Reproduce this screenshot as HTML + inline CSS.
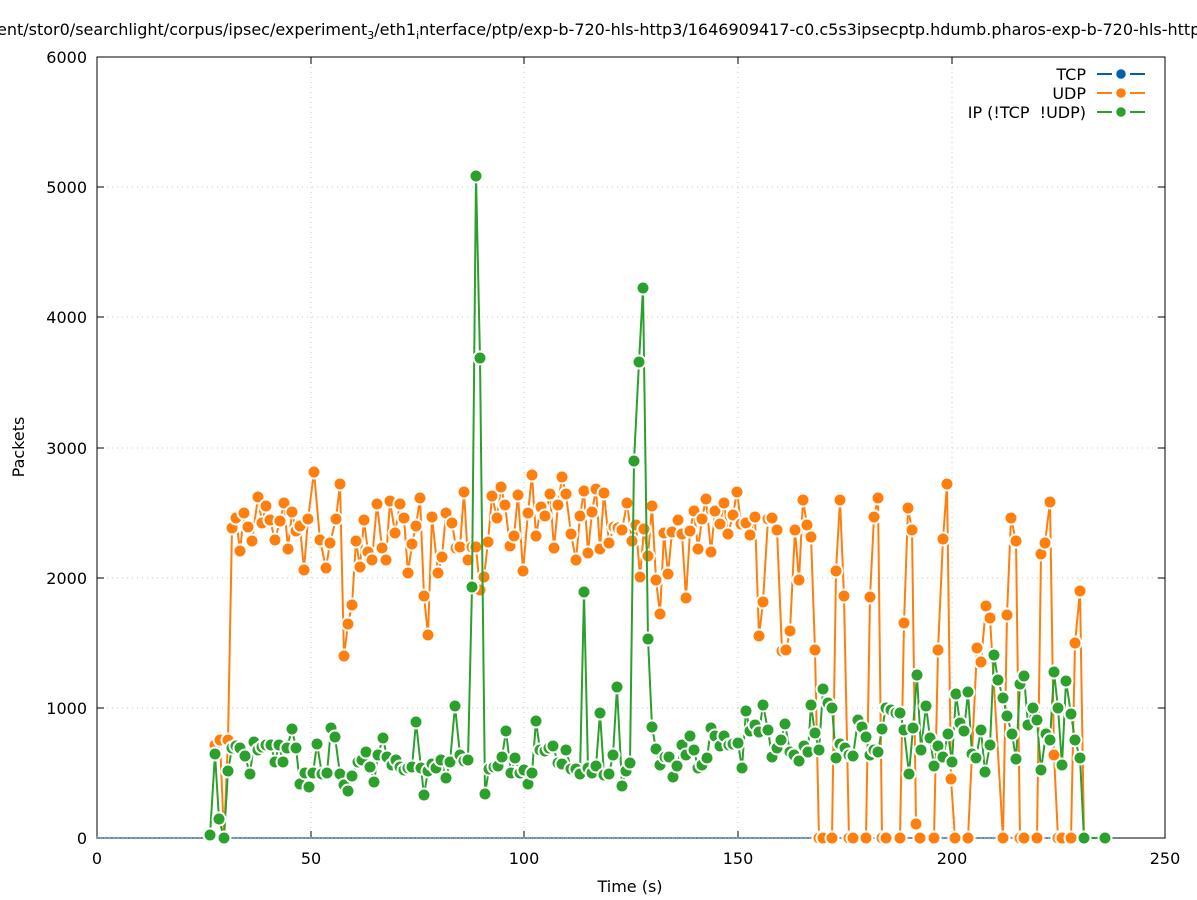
<!DOCTYPE html>
<html><head><meta charset="utf-8"><style>body{margin:0;background:#fff}svg{display:block;font-family:"DejaVu Sans","Liberation Sans",sans-serif}</style></head><body>
<svg id="s" width="1197" height="900" xmlns="http://www.w3.org/2000/svg">
<rect width="1197" height="900" fill="#fff"/>
<g stroke="#c8c8c8" stroke-width="1" stroke-dasharray="1,4">
<line x1="97" x2="1165" y1="708" y2="708"/><line x1="97" x2="1165" y1="578" y2="578"/><line x1="97" x2="1165" y1="448" y2="448"/><line x1="97" x2="1165" y1="317" y2="317"/><line x1="97" x2="1165" y1="187" y2="187"/>
<line y1="57" y2="838" x1="311" x2="311"/><line y1="57" y2="838" x1="524" x2="524"/><line y1="57" y2="838" x1="738" x2="738"/><line y1="57" y2="838" x1="952" x2="952"/>
</g>
<rect x="97" y="57" width="1068" height="781" fill="none" stroke="#000" stroke-width="1"/>
<g stroke="#000" stroke-width="1">
<line x1="97" x2="104" y1="708" y2="708"/><line x1="97" x2="104" y1="578" y2="578"/><line x1="97" x2="104" y1="448" y2="448"/><line x1="97" x2="104" y1="317" y2="317"/><line x1="97" x2="104" y1="187" y2="187"/>
<line x1="1165" x2="1158" y1="708" y2="708"/><line x1="1165" x2="1158" y1="578" y2="578"/><line x1="1165" x2="1158" y1="448" y2="448"/><line x1="1165" x2="1158" y1="317" y2="317"/><line x1="1165" x2="1158" y1="187" y2="187"/>
<line y1="838" y2="831" x1="311" x2="311"/><line y1="838" y2="831" x1="524" x2="524"/><line y1="838" y2="831" x1="738" x2="738"/><line y1="838" y2="831" x1="952" x2="952"/>
<line y1="57" y2="64" x1="311" x2="311"/><line y1="57" y2="64" x1="524" x2="524"/><line y1="57" y2="64" x1="738" x2="738"/><line y1="57" y2="64" x1="952" x2="952"/>
</g>
<g font-size="16" fill="#000" text-anchor="end">
<text x="87" y="844">0</text><text x="87" y="714">1000</text><text x="87" y="584">2000</text><text x="87" y="454">3000</text><text x="87" y="323">4000</text><text x="87" y="193">5000</text><text x="87" y="63">6000</text>
</g>
<g font-size="16" fill="#000" text-anchor="middle">
<text x="97" y="864">0</text><text x="311" y="864">50</text><text x="524" y="864">100</text><text x="738" y="864">150</text><text x="952" y="864">200</text><text x="1165" y="864">250</text>
<text x="630" y="892">Time (s)</text>
<text transform="translate(24,447) rotate(-90)">Packets</text>
</g>
<text x="-3" y="35" font-size="16" fill="#000">ent/stor0/searchlight/corpus/ipsec/experiment<tspan font-size="11" dy="4">3</tspan><tspan dy="-4">/eth1</tspan><tspan font-size="11" dy="4">i</tspan><tspan dy="-4">nterface/ptp/exp-b-720-hls-http3/1646909417-c0.c5s3ipsecptp.hdumb.pharos-exp-b-720-hls-http</tspan></text>
<g font-size="16" fill="#000" text-anchor="end">
<text x="1086" y="80">TCP</text><text x="1086" y="99">UDP</text><text x="1086" y="118">IP (!TCP&#160; !UDP)</text>
</g>
<g stroke-width="2">
<line x1="1097" x2="1112" y1="74" y2="74" stroke="#0060ad"/><line x1="1130" x2="1145" y1="74" y2="74" stroke="#0060ad"/><circle cx="1121" cy="74" r="5.5" fill="#0060ad" stroke="#fff" stroke-width="1.5"/>
<line x1="1097" x2="1112" y1="93" y2="93" stroke="#ff7f0e"/><line x1="1130" x2="1145" y1="93" y2="93" stroke="#ff7f0e"/><circle cx="1121" cy="93" r="5.5" fill="#ff7f0e" stroke="#fff" stroke-width="1.5"/>
<line x1="1097" x2="1112" y1="112" y2="112" stroke="#2ca02c"/><line x1="1130" x2="1145" y1="112" y2="112" stroke="#2ca02c"/><circle cx="1121" cy="112" r="5.5" fill="#2ca02c" stroke="#fff" stroke-width="1.5"/>
</g>
<g id="plot"></g>
</svg>
<script>
var O=[215,745,220,740,224,838,228,740,232,528,236,518,240,551,244,513,248,527,252,541,258,497,262,523,266,506,270,520,275,540,280,521,284,503,288,549,292,512,296,531,300,526,304,570,308,519,314,472,320,540,326,568,330,543,336,519,340,484,344,656,348,624,352,605,356,541,360,567,364,520,368,552,372,560,377,504,382,548,386,560,390,501,395,533,400,504,404,518,408,573,412,544,416,526,420,498,424,596,428,635,432,517,438,573,442,557,446,513,452,523,456,548,460,547,464,492,468,560,472,547,476,547,480,590,484,577,488,542,492,496,497,518,501,487,505,505,510,546,514,536,518,495,523,571,528,513,532,475,536,536,541,507,545,516,550,494,554,548,558,505,562,477,566,494,571,534,576,560,580,516,584,491,588,553,592,512,596,489,600,549,604,493,609,543,614,527,618,528,622,530,627,503,632,541,636,525,640,577,644,529,648,556,652,506,656,580,660,614,664,533,668,574,672,532,678,520,682,534,686,598,690,531,694,511,698,549,702,519,706,499,711,552,715,511,720,524,724,503,728,534,733,515,737,492,741,524,746,523,750,535,755,517,759,636,763,602,768,519,772,518,777,530,782,651,786,650,790,631,795,530,799,580,803,500,807,525,811,537,815,650,819,838,823,838,832,838,836,571,840,500,844,596,849,838,853,838,866,838,870,597,874,517,878,498,882,838,886,838,900,838,904,623,908,508,912,530,916,824,920,838,934,838,938,650,943,539,947,484,951,779,955,838,968,838,977,648,981,662,986,606,990,618,1003,838,1007,615,1011,518,1016,541,1020,838,1024,838,1037,838,1041,554,1045,543,1050,502,1054,755,1058,838,1062,838,1071,838,1075,643,1080,591,1084,838];
var G=[210,835,215,754,219,819,224,838,228,771,232,748,236,746,240,748,245,756,250,774,254,742,258,750,262,747,266,745,271,745,275,762,279,745,283,762,287,748,292,729,296,748,300,784,305,773,309,787,313,773,317,744,322,774,327,773,331,728,335,737,340,774,344,785,348,791,352,776,358,762,362,760,366,752,370,767,374,782,378,755,383,738,387,757,392,765,396,760,400,767,404,770,408,768,412,767,416,722,421,768,424,795,428,771,432,764,436,768,441,760,446,778,450,762,455,706,460,755,464,761,468,760,472,587,476,176,480,358,485,794,489,769,494,767,498,766,502,757,506,731,511,773,515,758,520,773,524,770,528,784,532,773,536,721,540,750,545,751,549,748,553,746,558,763,562,764,566,750,571,769,576,769,580,774,584,592,588,768,592,773,596,766,600,713,604,775,609,774,613,755,617,687,622,786,626,771,630,763,634,461,639,362,643,288,648,639,652,727,656,749,660,765,665,757,669,757,673,777,677,766,682,745,686,755,690,736,694,750,698,768,702,765,707,758,711,728,715,736,720,746,724,736,729,745,733,744,738,743,742,768,746,711,750,731,755,725,759,732,763,705,768,730,772,757,777,748,781,740,785,724,790,752,794,755,799,761,804,746,808,752,811,705,815,733,819,750,823,689,828,703,832,708,836,758,840,744,845,748,849,755,853,756,858,720,862,727,866,737,870,755,874,750,878,752,882,729,886,708,891,710,896,713,900,713,904,730,909,774,913,728,917,675,921,750,926,706,930,738,934,766,938,746,943,757,948,734,952,762,956,694,960,723,964,731,968,692,972,754,976,758,981,730,985,772,990,745,994,655,998,680,1003,698,1007,716,1012,734,1016,759,1020,684,1024,676,1028,725,1033,708,1037,720,1041,770,1046,734,1050,740,1054,672,1058,708,1062,765,1066,681,1071,714,1075,740,1080,758,1084,838,1105,838];
var g=document.getElementById('plot'),h='';
for(var x=97;x<1105;x+=4.27)h+='<circle cx="'+x.toFixed(1)+'" cy="838" r="1.2" fill="#6f9fd0"/>';
function ser(a,c){var p='';for(var i=0;i<a.length;i+=2)p+=a[i]+','+a[i+1]+' ';
h+='<polyline points="'+p+'" fill="none" stroke="'+c+'" stroke-width="2"/>';
for(var i=0;i<a.length;i+=2)h+='<circle cx="'+a[i]+'" cy="'+a[i+1]+'" r="6.5" fill="'+c+'" stroke="#fff" stroke-width="2"/>';}
ser(O,'#ff7f0e');ser(G,'#2ca02c');
g.innerHTML=h;
</script>
</body></html>
